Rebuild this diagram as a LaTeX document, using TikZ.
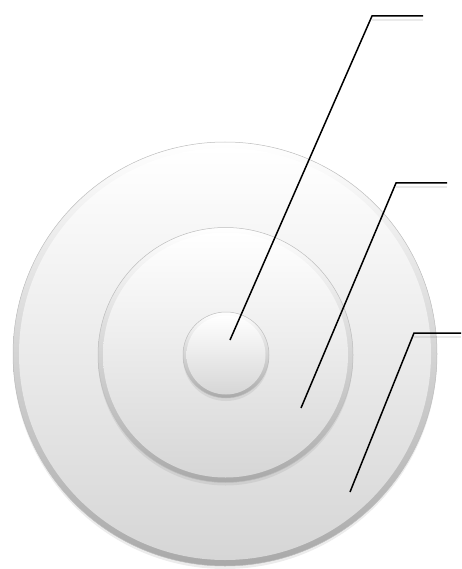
\documentclass[tikz,border=0pt]{standalone}
\usepackage{tikz}
\usetikzlibrary{shadows, calc}
\definecolor{rimDark}{HTML}{A9A9A9}
\definecolor{rimLine}{HTML}{BDBDBD}
\definecolor{faceTop}{HTML}{FFFFFF}
\definecolor{faceBot}{HTML}{D6D6D6}
\tikzset{
  disc/.style={
    circle, draw=rimLine, line width=0.5pt, inner sep=0pt,
    top color=white, bottom color=rimDark,
    drop shadow={opacity=0.15, shadow xshift=0pt, shadow yshift=-3pt}
  },
  face/.style={circle, inner sep=0pt, top color=faceTop, bottom color=faceBot},
  leader/.style={line width=1.5pt, black, line join=miter},
  leadershade/.style={line width=2pt, black, opacity=0.08}
}
\begin{document}
\begin{tikzpicture}[x=1pt, y=-1pt]
  \useasboundingbox (0,0) rectangle (461,569);
  % rings
  \node[disc, minimum size=424pt] (outer) at (225,354) {};
  \node[face, minimum size=412pt] (outerface) at (outer) {};
  \node[disc, minimum size=255pt] (middle) at (225.5,355) {};
  \node[face, minimum size=245pt] (middleface) at (middle) {};
  \node[disc, minimum size=86pt] (core) at (226,355) {};
  \node[face, minimum size=79pt] (coreface) at (core) {};
  % leader points
  \coordinate (coreTip) at (230,340);
  \coordinate (coreBend) at (372,16);
  \coordinate (coreEnd) at (423,16);
  \coordinate (midTip) at (301,408);
  \coordinate (midBend) at (396,183);
  \coordinate (midEnd) at (447,183);
  \coordinate (outTip) at (350,492);
  \coordinate (outBend) at (414,333);
  \coordinate (outEnd) at (461,333);
  % soft shadow under the horizontals
  \draw[leadershade] ($(coreBend)+(0,4)$) -- ($(coreEnd)+(0,4)$);
  \draw[leadershade] ($(midBend)+(0,4)$) -- ($(midEnd)+(0,4)$);
  \draw[leadershade] ($(outBend)+(0,4)$) -- ($(outEnd)+(0,4)$);
  % leaders
  \draw[leader] (coreTip) -- (coreBend) -- (coreEnd);
  \draw[leader] (midTip) -- (midBend) -- (midEnd);
  \draw[leader] (outTip) -- (outBend) -- (outEnd);
\end{tikzpicture}
\end{document}
